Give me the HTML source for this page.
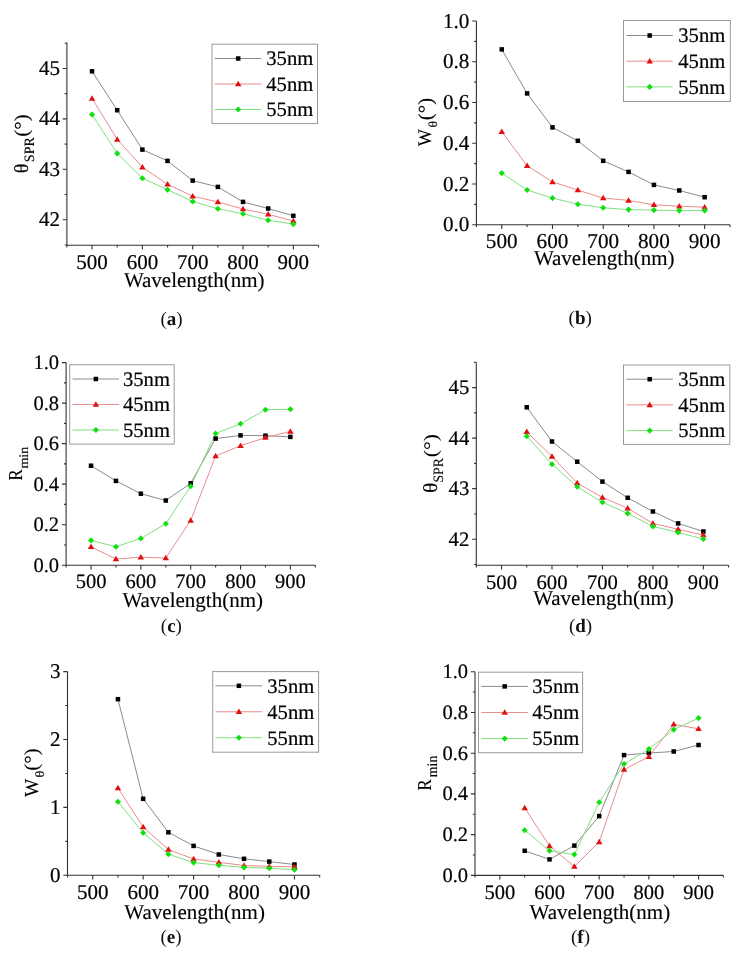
<!DOCTYPE html>
<html><head><meta charset="utf-8"><title>Figure</title>
<style>
html,body{margin:0;padding:0;background:#fff;}
body{width:741px;height:953px;overflow:hidden;}
svg{display:block;font-family:"Liberation Serif", serif;text-rendering:geometricPrecision;filter:blur(0.35px);}
svg text{fill:#000;stroke:#000;stroke-width:0.2px;}
svg text.t{stroke-width:0.12px;}
svg text.c{stroke:none;fill:#111;}
</style></head>
<body>
<svg width="741" height="953" viewBox="0 0 741 953">
<rect width="741" height="953" fill="#fff"/>
<path d="M66.9 42.6V245.3H318.5" fill="none" stroke="#333" stroke-width="1.1"/>
<path d="M66.9 219.75H62.7M66.9 169.32H62.7M66.9 118.89H62.7M66.9 68.46H62.7M66.9 244.97H64.7M66.9 194.53H64.7M66.9 144.11H64.7M66.9 93.67H64.7M66.9 43.25H64.7M92.06 245.3V249.5M142.38 245.3V249.5M192.7 245.3V249.5M243.02 245.3V249.5M293.34 245.3V249.5M66.9 245.3V247.5M117.22 245.3V247.5M167.54 245.3V247.5M217.86 245.3V247.5M268.18 245.3V247.5M318.5 245.3V247.5" fill="none" stroke="#333" stroke-width="1.1"/>
<text x="59.9" y="226.35" text-anchor="end" font-size="21">42</text>
<text x="59.9" y="175.92" text-anchor="end" font-size="21">43</text>
<text x="59.9" y="125.49" text-anchor="end" font-size="21">44</text>
<text x="59.9" y="75.06" text-anchor="end" font-size="21">45</text>
<text x="92.06" y="268.5" text-anchor="middle" font-size="21">500</text>
<text x="142.38" y="268.5" text-anchor="middle" font-size="21">600</text>
<text x="192.7" y="268.5" text-anchor="middle" font-size="21">700</text>
<text x="243.02" y="268.5" text-anchor="middle" font-size="21">800</text>
<text x="293.34" y="268.5" text-anchor="middle" font-size="21">900</text>
<text class="t" x="194.2" y="286.5" text-anchor="middle" font-size="21.0">Wavelength(nm)</text>
<text class="t" transform="translate(27.7 173.15) rotate(-90) scale(1.013 1)" font-size="20.06">θ</text>
<text class="t" transform="translate(33.56 162.14) rotate(-90) scale(0.981 1)" font-size="14.31">SPR</text>
<text class="t" transform="translate(27.69 136.73) rotate(-90) scale(1.067 1)" font-size="19.76">(°)</text>
<polyline points="92.06,71.3 117.22,110.2 142.38,149.6 167.54,160.9 192.7,180.6 217.86,186.9 243.02,201.9 268.18,208.5 293.34,215.8" fill="none" stroke="#8a8a8a" stroke-width="1"/>
<polyline points="92.06,98.4 117.22,139.4 142.38,167.2 167.54,184.3 192.7,196.2 217.86,201.9 243.02,209 268.18,214.2 293.34,221.1" fill="none" stroke="#ec8c8c" stroke-width="1"/>
<polyline points="92.06,114.6 117.22,153.4 142.38,178.2 167.54,189.7 192.7,201.5 217.86,208.7 243.02,213.8 268.18,220.3 293.34,224.1" fill="none" stroke="#80e080" stroke-width="1"/>
<rect x="89.81" y="69.05" width="4.5" height="4.5" fill="#000"/>
<rect x="114.97" y="107.95" width="4.5" height="4.5" fill="#000"/>
<rect x="140.13" y="147.35" width="4.5" height="4.5" fill="#000"/>
<rect x="165.29" y="158.65" width="4.5" height="4.5" fill="#000"/>
<rect x="190.45" y="178.35" width="4.5" height="4.5" fill="#000"/>
<rect x="215.61" y="184.65" width="4.5" height="4.5" fill="#000"/>
<rect x="240.77" y="199.65" width="4.5" height="4.5" fill="#000"/>
<rect x="265.93" y="206.25" width="4.5" height="4.5" fill="#000"/>
<rect x="291.09" y="213.55" width="4.5" height="4.5" fill="#000"/>
<path d="M92.06 95.15L95.31 100.65L88.81 100.65Z" fill="#e01010"/>
<path d="M117.22 136.15L120.47 141.65L113.97 141.65Z" fill="#e01010"/>
<path d="M142.38 163.95L145.63 169.45L139.13 169.45Z" fill="#e01010"/>
<path d="M167.54 181.05L170.79 186.55L164.29 186.55Z" fill="#e01010"/>
<path d="M192.7 192.95L195.95 198.45L189.45 198.45Z" fill="#e01010"/>
<path d="M217.86 198.65L221.11 204.15L214.61 204.15Z" fill="#e01010"/>
<path d="M243.02 205.75L246.27 211.25L239.77 211.25Z" fill="#e01010"/>
<path d="M268.18 210.95L271.43 216.45L264.93 216.45Z" fill="#e01010"/>
<path d="M293.34 217.85L296.59 223.35L290.09 223.35Z" fill="#e01010"/>
<path d="M92.06 111.55L95.11 114.6L92.06 117.65L89.01 114.6Z" fill="#10e010"/>
<path d="M117.22 150.35L120.27 153.4L117.22 156.45L114.17 153.4Z" fill="#10e010"/>
<path d="M142.38 175.15L145.43 178.2L142.38 181.25L139.33 178.2Z" fill="#10e010"/>
<path d="M167.54 186.65L170.59 189.7L167.54 192.75L164.49 189.7Z" fill="#10e010"/>
<path d="M192.7 198.45L195.75 201.5L192.7 204.55L189.65 201.5Z" fill="#10e010"/>
<path d="M217.86 205.65L220.91 208.7L217.86 211.75L214.81 208.7Z" fill="#10e010"/>
<path d="M243.02 210.75L246.07 213.8L243.02 216.85L239.97 213.8Z" fill="#10e010"/>
<path d="M268.18 217.25L271.23 220.3L268.18 223.35L265.13 220.3Z" fill="#10e010"/>
<path d="M293.34 221.05L296.39 224.1L293.34 227.15L290.29 224.1Z" fill="#10e010"/>
<rect x="212" y="44.2" width="105.5" height="79.4" fill="#fff" stroke="#999" stroke-width="1"/>
<path d="M214.8 58.5H261.3" stroke="#8a8a8a" stroke-width="1"/>
<rect x="235.95" y="56.25" width="4.5" height="4.5" fill="#000"/>
<text x="266.3" y="65.3" font-size="20.6">35nm</text>
<path d="M214.8 84H261.3" stroke="#ec8c8c" stroke-width="1"/>
<path d="M238.2 80.75L241.45 86.25L234.95 86.25Z" fill="#e01010"/>
<text x="266.3" y="90.8" font-size="20.6">45nm</text>
<path d="M214.8 109.5H261.3" stroke="#80e080" stroke-width="1"/>
<path d="M238.2 106.45L241.25 109.5L238.2 112.55L235.15 109.5Z" fill="#10e010"/>
<text x="266.3" y="116.3" font-size="20.6">55nm</text>
<text class="c" x="171.5" y="324.5" text-anchor="middle" font-size="19">(<tspan font-weight="bold">a</tspan>)</text>
<path d="M476.4 21V224.7H730" fill="none" stroke="#333" stroke-width="1.1"/>
<path d="M476.4 224.7H472.2M476.4 183.96H472.2M476.4 143.22H472.2M476.4 102.48H472.2M476.4 61.74H472.2M476.4 21H472.2M476.4 204.33H474.2M476.4 163.59H474.2M476.4 122.85H474.2M476.4 82.11H474.2M476.4 41.37H474.2M501.76 224.7V228.9M552.48 224.7V228.9M603.2 224.7V228.9M653.92 224.7V228.9M704.64 224.7V228.9M476.4 224.7V226.9M527.12 224.7V226.9M577.84 224.7V226.9M628.56 224.7V226.9M679.28 224.7V226.9M730 224.7V226.9" fill="none" stroke="#333" stroke-width="1.1"/>
<text x="469.4" y="231.36" text-anchor="end" font-size="21.2">0.0</text>
<text x="469.4" y="190.62" text-anchor="end" font-size="21.2">0.2</text>
<text x="469.4" y="149.88" text-anchor="end" font-size="21.2">0.4</text>
<text x="469.4" y="109.14" text-anchor="end" font-size="21.2">0.6</text>
<text x="469.4" y="68.4" text-anchor="end" font-size="21.2">0.8</text>
<text x="469.4" y="27.66" text-anchor="end" font-size="21.2">1.0</text>
<text x="501.76" y="247.9" text-anchor="middle" font-size="21.2">500</text>
<text x="552.48" y="247.9" text-anchor="middle" font-size="21.2">600</text>
<text x="603.2" y="247.9" text-anchor="middle" font-size="21.2">700</text>
<text x="653.92" y="247.9" text-anchor="middle" font-size="21.2">800</text>
<text x="704.64" y="247.9" text-anchor="middle" font-size="21.2">900</text>
<text class="t" x="604.2" y="265.3" text-anchor="middle" font-size="21.0">Wavelength(nm)</text>
<text class="t" transform="translate(431.21 146.22) rotate(-90) scale(0.943 1)" font-size="19.28">W</text>
<text class="t" transform="translate(437.08 127.55) rotate(-90) scale(1.143 1)" font-size="12.15">θ</text>
<text class="t" transform="translate(431.54 120.22) rotate(-90) scale(1.050 1)" font-size="19.98">(°)</text>
<polyline points="501.76,49.4 527.12,93.4 552.48,127.4 577.84,140.8 603.2,160.8 628.56,171.9 653.92,184.9 679.28,190.5 704.64,197.2" fill="none" stroke="#8a8a8a" stroke-width="1"/>
<polyline points="501.76,131.8 527.12,165.7 552.48,181.9 577.84,190.1 603.2,198 628.56,200.4 653.92,204.8 679.28,206.2 704.64,207.2" fill="none" stroke="#ec8c8c" stroke-width="1"/>
<polyline points="501.76,173.1 527.12,190 552.48,198.1 577.84,204.2 603.2,207.8 628.56,209.6 653.92,210.1 679.28,210.6 704.64,210.6" fill="none" stroke="#80e080" stroke-width="1"/>
<rect x="499.51" y="47.15" width="4.5" height="4.5" fill="#000"/>
<rect x="524.87" y="91.15" width="4.5" height="4.5" fill="#000"/>
<rect x="550.23" y="125.15" width="4.5" height="4.5" fill="#000"/>
<rect x="575.59" y="138.55" width="4.5" height="4.5" fill="#000"/>
<rect x="600.95" y="158.55" width="4.5" height="4.5" fill="#000"/>
<rect x="626.31" y="169.65" width="4.5" height="4.5" fill="#000"/>
<rect x="651.67" y="182.65" width="4.5" height="4.5" fill="#000"/>
<rect x="677.03" y="188.25" width="4.5" height="4.5" fill="#000"/>
<rect x="702.39" y="194.95" width="4.5" height="4.5" fill="#000"/>
<path d="M501.76 128.55L505.01 134.05L498.51 134.05Z" fill="#e01010"/>
<path d="M527.12 162.45L530.37 167.95L523.87 167.95Z" fill="#e01010"/>
<path d="M552.48 178.65L555.73 184.15L549.23 184.15Z" fill="#e01010"/>
<path d="M577.84 186.85L581.09 192.35L574.59 192.35Z" fill="#e01010"/>
<path d="M603.2 194.75L606.45 200.25L599.95 200.25Z" fill="#e01010"/>
<path d="M628.56 197.15L631.81 202.65L625.31 202.65Z" fill="#e01010"/>
<path d="M653.92 201.55L657.17 207.05L650.67 207.05Z" fill="#e01010"/>
<path d="M679.28 202.95L682.53 208.45L676.03 208.45Z" fill="#e01010"/>
<path d="M704.64 203.95L707.89 209.45L701.39 209.45Z" fill="#e01010"/>
<path d="M501.76 170.05L504.81 173.1L501.76 176.15L498.71 173.1Z" fill="#10e010"/>
<path d="M527.12 186.95L530.17 190L527.12 193.05L524.07 190Z" fill="#10e010"/>
<path d="M552.48 195.05L555.53 198.1L552.48 201.15L549.43 198.1Z" fill="#10e010"/>
<path d="M577.84 201.15L580.89 204.2L577.84 207.25L574.79 204.2Z" fill="#10e010"/>
<path d="M603.2 204.75L606.25 207.8L603.2 210.85L600.15 207.8Z" fill="#10e010"/>
<path d="M628.56 206.55L631.61 209.6L628.56 212.65L625.51 209.6Z" fill="#10e010"/>
<path d="M653.92 207.05L656.97 210.1L653.92 213.15L650.87 210.1Z" fill="#10e010"/>
<path d="M679.28 207.55L682.33 210.6L679.28 213.65L676.23 210.6Z" fill="#10e010"/>
<path d="M704.64 207.55L707.69 210.6L704.64 213.65L701.59 210.6Z" fill="#10e010"/>
<rect x="623.5" y="20.5" width="106.8" height="81" fill="#fff" stroke="#999" stroke-width="1"/>
<path d="M626.3 35.5H672.8" stroke="#8a8a8a" stroke-width="1"/>
<rect x="647.45" y="33.25" width="4.5" height="4.5" fill="#000"/>
<text x="678.3" y="42.3" font-size="20.6">35nm</text>
<path d="M626.3 61.2H672.8" stroke="#ec8c8c" stroke-width="1"/>
<path d="M649.7 57.95L652.95 63.45L646.45 63.45Z" fill="#e01010"/>
<text x="678.3" y="68" font-size="20.6">45nm</text>
<path d="M626.3 86.9H672.8" stroke="#80e080" stroke-width="1"/>
<path d="M649.7 83.85L652.75 86.9L649.7 89.95L646.65 86.9Z" fill="#10e010"/>
<text x="678.3" y="93.7" font-size="20.6">55nm</text>
<text class="c" x="580.2" y="324" text-anchor="middle" font-size="19">(<tspan font-weight="bold">b</tspan>)</text>
<path d="M66.1 362.6V565.2H315.3" fill="none" stroke="#333" stroke-width="1.1"/>
<path d="M66.1 565.2H61.9M66.1 524.68H61.9M66.1 484.16H61.9M66.1 443.64H61.9M66.1 403.12H61.9M66.1 362.6H61.9M66.1 544.94H63.9M66.1 504.42H63.9M66.1 463.9H63.9M66.1 423.38H63.9M66.1 382.86H63.9M91.02 565.2V569.4M140.86 565.2V569.4M190.7 565.2V569.4M240.54 565.2V569.4M290.38 565.2V569.4M66.1 565.2V567.4M115.94 565.2V567.4M165.78 565.2V567.4M215.62 565.2V567.4M265.46 565.2V567.4M315.3 565.2V567.4" fill="none" stroke="#333" stroke-width="1.1"/>
<text x="59.1" y="571.64" text-anchor="end" font-size="20.5">0.0</text>
<text x="59.1" y="531.12" text-anchor="end" font-size="20.5">0.2</text>
<text x="59.1" y="490.6" text-anchor="end" font-size="20.5">0.4</text>
<text x="59.1" y="450.08" text-anchor="end" font-size="20.5">0.6</text>
<text x="59.1" y="409.56" text-anchor="end" font-size="20.5">0.8</text>
<text x="59.1" y="369.04" text-anchor="end" font-size="20.5">1.0</text>
<text x="91.02" y="588.4" text-anchor="middle" font-size="20.5">500</text>
<text x="140.86" y="588.4" text-anchor="middle" font-size="20.5">600</text>
<text x="190.7" y="588.4" text-anchor="middle" font-size="20.5">700</text>
<text x="240.54" y="588.4" text-anchor="middle" font-size="20.5">800</text>
<text x="290.38" y="588.4" text-anchor="middle" font-size="20.5">900</text>
<text class="t" x="192.7" y="606.9" text-anchor="middle" font-size="21.0">Wavelength(nm)</text>
<text class="t" transform="translate(22.3 480.58) rotate(-90) scale(0.845 1)" font-size="19.72">R</text>
<text class="t" transform="translate(28 468.6) rotate(-90) scale(1.070 1)" font-size="13.16">min</text>
<polyline points="91.02,465.7 115.94,480.9 140.86,493.7 165.78,500.5 190.7,483.3 215.62,438.6 240.54,435.4 265.46,435.7 290.38,436.9" fill="none" stroke="#8a8a8a" stroke-width="1"/>
<polyline points="91.02,546.8 115.94,559 140.86,557.2 165.78,558 190.7,520.4 215.62,456 240.54,445.7 265.46,437.6 290.38,431.4" fill="none" stroke="#ec8c8c" stroke-width="1"/>
<polyline points="91.02,540.4 115.94,546.7 140.86,538.4 165.78,523.7 190.7,486.3 215.62,433.5 240.54,423.8 265.46,409.7 290.38,409.3" fill="none" stroke="#80e080" stroke-width="1"/>
<rect x="88.77" y="463.45" width="4.5" height="4.5" fill="#000"/>
<rect x="113.69" y="478.65" width="4.5" height="4.5" fill="#000"/>
<rect x="138.61" y="491.45" width="4.5" height="4.5" fill="#000"/>
<rect x="163.53" y="498.25" width="4.5" height="4.5" fill="#000"/>
<rect x="188.45" y="481.05" width="4.5" height="4.5" fill="#000"/>
<rect x="213.37" y="436.35" width="4.5" height="4.5" fill="#000"/>
<rect x="238.29" y="433.15" width="4.5" height="4.5" fill="#000"/>
<rect x="263.21" y="433.45" width="4.5" height="4.5" fill="#000"/>
<rect x="288.13" y="434.65" width="4.5" height="4.5" fill="#000"/>
<path d="M91.02 543.55L94.27 549.05L87.77 549.05Z" fill="#e01010"/>
<path d="M115.94 555.75L119.19 561.25L112.69 561.25Z" fill="#e01010"/>
<path d="M140.86 553.95L144.11 559.45L137.61 559.45Z" fill="#e01010"/>
<path d="M165.78 554.75L169.03 560.25L162.53 560.25Z" fill="#e01010"/>
<path d="M190.7 517.15L193.95 522.65L187.45 522.65Z" fill="#e01010"/>
<path d="M215.62 452.75L218.87 458.25L212.37 458.25Z" fill="#e01010"/>
<path d="M240.54 442.45L243.79 447.95L237.29 447.95Z" fill="#e01010"/>
<path d="M265.46 434.35L268.71 439.85L262.21 439.85Z" fill="#e01010"/>
<path d="M290.38 428.15L293.63 433.65L287.13 433.65Z" fill="#e01010"/>
<path d="M91.02 537.35L94.07 540.4L91.02 543.45L87.97 540.4Z" fill="#10e010"/>
<path d="M115.94 543.65L118.99 546.7L115.94 549.75L112.89 546.7Z" fill="#10e010"/>
<path d="M140.86 535.35L143.91 538.4L140.86 541.45L137.81 538.4Z" fill="#10e010"/>
<path d="M165.78 520.65L168.83 523.7L165.78 526.75L162.73 523.7Z" fill="#10e010"/>
<path d="M190.7 483.25L193.75 486.3L190.7 489.35L187.65 486.3Z" fill="#10e010"/>
<path d="M215.62 430.45L218.67 433.5L215.62 436.55L212.57 433.5Z" fill="#10e010"/>
<path d="M240.54 420.75L243.59 423.8L240.54 426.85L237.49 423.8Z" fill="#10e010"/>
<path d="M265.46 406.65L268.51 409.7L265.46 412.75L262.41 409.7Z" fill="#10e010"/>
<path d="M290.38 406.25L293.43 409.3L290.38 412.35L287.33 409.3Z" fill="#10e010"/>
<rect x="69.7" y="364.7" width="104.5" height="79.4" fill="#fff" stroke="#999" stroke-width="1"/>
<path d="M72.5 379H119" stroke="#8a8a8a" stroke-width="1"/>
<rect x="93.65" y="376.75" width="4.5" height="4.5" fill="#000"/>
<text x="123" y="385.8" font-size="20.6">35nm</text>
<path d="M72.5 404.5H119" stroke="#ec8c8c" stroke-width="1"/>
<path d="M95.9 401.25L99.15 406.75L92.65 406.75Z" fill="#e01010"/>
<text x="123" y="411.3" font-size="20.6">45nm</text>
<path d="M72.5 430H119" stroke="#80e080" stroke-width="1"/>
<path d="M95.9 426.95L98.95 430L95.9 433.05L92.85 430Z" fill="#10e010"/>
<text x="123" y="436.8" font-size="20.6">55nm</text>
<text class="c" x="171.4" y="631.5" text-anchor="middle" font-size="19">(<tspan font-weight="bold">c</tspan>)</text>
<path d="M476.3 362.4V565.3H728.6" fill="none" stroke="#333" stroke-width="1.1"/>
<path d="M476.3 539.2H472.1M476.3 488.67H472.1M476.3 438.14H472.1M476.3 387.61H472.1M476.3 564.47H474.1M476.3 513.94H474.1M476.3 463.41H474.1M476.3 412.88H474.1M476.3 362.35H474.1M501.53 565.3V569.5M551.99 565.3V569.5M602.45 565.3V569.5M652.91 565.3V569.5M703.37 565.3V569.5M476.3 565.3V567.5M526.76 565.3V567.5M577.22 565.3V567.5M627.68 565.3V567.5M678.14 565.3V567.5M728.6 565.3V567.5" fill="none" stroke="#333" stroke-width="1.1"/>
<text x="469.3" y="545.71" text-anchor="end" font-size="20.7">42</text>
<text x="469.3" y="495.18" text-anchor="end" font-size="20.7">43</text>
<text x="469.3" y="444.65" text-anchor="end" font-size="20.7">44</text>
<text x="469.3" y="394.12" text-anchor="end" font-size="20.7">45</text>
<text x="501.53" y="588.5" text-anchor="middle" font-size="20.7">500</text>
<text x="551.99" y="588.5" text-anchor="middle" font-size="20.7">600</text>
<text x="602.45" y="588.5" text-anchor="middle" font-size="20.7">700</text>
<text x="652.91" y="588.5" text-anchor="middle" font-size="20.7">800</text>
<text x="703.37" y="588.5" text-anchor="middle" font-size="20.7">900</text>
<text class="t" x="603.45" y="604.6" text-anchor="middle" font-size="21.0">Wavelength(nm)</text>
<text class="t" transform="translate(437.1 493.03) rotate(-90) scale(1.089 1)" font-size="20.06">θ</text>
<text class="t" transform="translate(442.96 482.52) rotate(-90) scale(0.961 1)" font-size="14.31">SPR</text>
<text class="t" transform="translate(436.71 457.15) rotate(-90) scale(1.130 1)" font-size="19.21">(°)</text>
<polyline points="526.76,407.3 551.99,441.5 577.22,461.7 602.45,481.6 627.68,497.8 652.91,511.5 678.14,523.4 703.37,531.5" fill="none" stroke="#8a8a8a" stroke-width="1"/>
<polyline points="526.76,431.8 551.99,456.4 577.22,483.1 602.45,497.4 627.68,508.3 652.91,523.4 678.14,529.3 703.37,535.1" fill="none" stroke="#ec8c8c" stroke-width="1"/>
<polyline points="526.76,436.2 551.99,464.2 577.22,486.8 602.45,502.3 627.68,513.4 652.91,526.4 678.14,532.5 703.37,539" fill="none" stroke="#80e080" stroke-width="1"/>
<rect x="524.51" y="405.05" width="4.5" height="4.5" fill="#000"/>
<rect x="549.74" y="439.25" width="4.5" height="4.5" fill="#000"/>
<rect x="574.97" y="459.45" width="4.5" height="4.5" fill="#000"/>
<rect x="600.2" y="479.35" width="4.5" height="4.5" fill="#000"/>
<rect x="625.43" y="495.55" width="4.5" height="4.5" fill="#000"/>
<rect x="650.66" y="509.25" width="4.5" height="4.5" fill="#000"/>
<rect x="675.89" y="521.15" width="4.5" height="4.5" fill="#000"/>
<rect x="701.12" y="529.25" width="4.5" height="4.5" fill="#000"/>
<path d="M526.76 428.55L530.01 434.05L523.51 434.05Z" fill="#e01010"/>
<path d="M551.99 453.15L555.24 458.65L548.74 458.65Z" fill="#e01010"/>
<path d="M577.22 479.85L580.47 485.35L573.97 485.35Z" fill="#e01010"/>
<path d="M602.45 494.15L605.7 499.65L599.2 499.65Z" fill="#e01010"/>
<path d="M627.68 505.05L630.93 510.55L624.43 510.55Z" fill="#e01010"/>
<path d="M652.91 520.15L656.16 525.65L649.66 525.65Z" fill="#e01010"/>
<path d="M678.14 526.05L681.39 531.55L674.89 531.55Z" fill="#e01010"/>
<path d="M703.37 531.85L706.62 537.35L700.12 537.35Z" fill="#e01010"/>
<path d="M526.76 433.15L529.81 436.2L526.76 439.25L523.71 436.2Z" fill="#10e010"/>
<path d="M551.99 461.15L555.04 464.2L551.99 467.25L548.94 464.2Z" fill="#10e010"/>
<path d="M577.22 483.75L580.27 486.8L577.22 489.85L574.17 486.8Z" fill="#10e010"/>
<path d="M602.45 499.25L605.5 502.3L602.45 505.35L599.4 502.3Z" fill="#10e010"/>
<path d="M627.68 510.35L630.73 513.4L627.68 516.45L624.63 513.4Z" fill="#10e010"/>
<path d="M652.91 523.35L655.96 526.4L652.91 529.45L649.86 526.4Z" fill="#10e010"/>
<path d="M678.14 529.45L681.19 532.5L678.14 535.55L675.09 532.5Z" fill="#10e010"/>
<path d="M703.37 535.95L706.42 539L703.37 542.05L700.32 539Z" fill="#10e010"/>
<rect x="623.5" y="365" width="106.3" height="79.4" fill="#fff" stroke="#999" stroke-width="1"/>
<path d="M626.3 379.2H672.8" stroke="#8a8a8a" stroke-width="1"/>
<rect x="647.45" y="376.95" width="4.5" height="4.5" fill="#000"/>
<text x="678.3" y="386" font-size="20.6">35nm</text>
<path d="M626.3 404.9H672.8" stroke="#ec8c8c" stroke-width="1"/>
<path d="M649.7 401.65L652.95 407.15L646.45 407.15Z" fill="#e01010"/>
<text x="678.3" y="411.7" font-size="20.6">45nm</text>
<path d="M626.3 430.6H672.8" stroke="#80e080" stroke-width="1"/>
<path d="M649.7 427.55L652.75 430.6L649.7 433.65L646.65 430.6Z" fill="#10e010"/>
<text x="678.3" y="437.4" font-size="20.6">55nm</text>
<text class="c" x="580.5" y="631.5" text-anchor="middle" font-size="19">(<tspan font-weight="bold">d</tspan>)</text>
<path d="M67.5 671.6V875.3H319.7" fill="none" stroke="#333" stroke-width="1.1"/>
<path d="M67.5 875.3H63.3M67.5 807.4H63.3M67.5 739.5H63.3M67.5 671.6H63.3M67.5 841.35H65.3M67.5 773.45H65.3M67.5 705.55H65.3M92.72 875.3V879.5M143.16 875.3V879.5M193.6 875.3V879.5M244.04 875.3V879.5M294.48 875.3V879.5M67.5 875.3V877.5M117.94 875.3V877.5M168.38 875.3V877.5M218.82 875.3V877.5M269.26 875.3V877.5M319.7 875.3V877.5" fill="none" stroke="#333" stroke-width="1.1"/>
<text x="60.5" y="881.9" text-anchor="end" font-size="21">0</text>
<text x="60.5" y="814" text-anchor="end" font-size="21">1</text>
<text x="60.5" y="746.1" text-anchor="end" font-size="21">2</text>
<text x="60.5" y="678.2" text-anchor="end" font-size="21">3</text>
<text x="92.72" y="898.5" text-anchor="middle" font-size="21">500</text>
<text x="143.16" y="898.5" text-anchor="middle" font-size="21">600</text>
<text x="193.6" y="898.5" text-anchor="middle" font-size="21">700</text>
<text x="244.04" y="898.5" text-anchor="middle" font-size="21">800</text>
<text x="294.48" y="898.5" text-anchor="middle" font-size="21">900</text>
<text class="t" x="194.6" y="918.5" text-anchor="middle" font-size="21.0">Wavelength(nm)</text>
<text class="t" transform="translate(38.2 797.02) rotate(-90) scale(0.979 1)" font-size="19.88">W</text>
<text class="t" transform="translate(44.07 777.48) rotate(-90) scale(1.132 1)" font-size="12.71">θ</text>
<text class="t" transform="translate(38.27 770.72) rotate(-90) scale(1.056 1)" font-size="19.87">(°)</text>
<polyline points="117.94,699.2 143.16,798.8 168.38,832.3 193.6,845.9 218.82,854.5 244.04,858.8 269.26,861.6 294.48,864.5" fill="none" stroke="#8a8a8a" stroke-width="1"/>
<polyline points="117.94,788 143.16,827 168.38,849.6 193.6,858.9 218.82,862.3 244.04,865.5 269.26,866.4 294.48,866.8" fill="none" stroke="#ec8c8c" stroke-width="1"/>
<polyline points="117.94,801.7 143.16,832.8 168.38,854.2 193.6,862.6 218.82,865.3 244.04,867.4 269.26,868.2 294.48,869.7" fill="none" stroke="#80e080" stroke-width="1"/>
<rect x="115.69" y="696.95" width="4.5" height="4.5" fill="#000"/>
<rect x="140.91" y="796.55" width="4.5" height="4.5" fill="#000"/>
<rect x="166.13" y="830.05" width="4.5" height="4.5" fill="#000"/>
<rect x="191.35" y="843.65" width="4.5" height="4.5" fill="#000"/>
<rect x="216.57" y="852.25" width="4.5" height="4.5" fill="#000"/>
<rect x="241.79" y="856.55" width="4.5" height="4.5" fill="#000"/>
<rect x="267.01" y="859.35" width="4.5" height="4.5" fill="#000"/>
<rect x="292.23" y="862.25" width="4.5" height="4.5" fill="#000"/>
<path d="M117.94 784.75L121.19 790.25L114.69 790.25Z" fill="#e01010"/>
<path d="M143.16 823.75L146.41 829.25L139.91 829.25Z" fill="#e01010"/>
<path d="M168.38 846.35L171.63 851.85L165.13 851.85Z" fill="#e01010"/>
<path d="M193.6 855.65L196.85 861.15L190.35 861.15Z" fill="#e01010"/>
<path d="M218.82 859.05L222.07 864.55L215.57 864.55Z" fill="#e01010"/>
<path d="M244.04 862.25L247.29 867.75L240.79 867.75Z" fill="#e01010"/>
<path d="M269.26 863.15L272.51 868.65L266.01 868.65Z" fill="#e01010"/>
<path d="M294.48 863.55L297.73 869.05L291.23 869.05Z" fill="#e01010"/>
<path d="M117.94 798.65L120.99 801.7L117.94 804.75L114.89 801.7Z" fill="#10e010"/>
<path d="M143.16 829.75L146.21 832.8L143.16 835.85L140.11 832.8Z" fill="#10e010"/>
<path d="M168.38 851.15L171.43 854.2L168.38 857.25L165.33 854.2Z" fill="#10e010"/>
<path d="M193.6 859.55L196.65 862.6L193.6 865.65L190.55 862.6Z" fill="#10e010"/>
<path d="M218.82 862.25L221.87 865.3L218.82 868.35L215.77 865.3Z" fill="#10e010"/>
<path d="M244.04 864.35L247.09 867.4L244.04 870.45L240.99 867.4Z" fill="#10e010"/>
<path d="M269.26 865.15L272.31 868.2L269.26 871.25L266.21 868.2Z" fill="#10e010"/>
<path d="M294.48 866.65L297.53 869.7L294.48 872.75L291.43 869.7Z" fill="#10e010"/>
<rect x="212.7" y="671.6" width="105.9" height="80.6" fill="#fff" stroke="#999" stroke-width="1"/>
<path d="M215.5 685.8H262" stroke="#8a8a8a" stroke-width="1"/>
<rect x="236.65" y="683.55" width="4.5" height="4.5" fill="#000"/>
<text x="267.3" y="692.6" font-size="20.6">35nm</text>
<path d="M215.5 711.75H262" stroke="#ec8c8c" stroke-width="1"/>
<path d="M238.9 708.5L242.15 714L235.65 714Z" fill="#e01010"/>
<text x="267.3" y="718.55" font-size="20.6">45nm</text>
<path d="M215.5 737.7H262" stroke="#80e080" stroke-width="1"/>
<path d="M238.9 734.65L241.95 737.7L238.9 740.75L235.85 737.7Z" fill="#10e010"/>
<text x="267.3" y="744.5" font-size="20.6">55nm</text>
<text class="c" x="171" y="942.5" text-anchor="middle" font-size="19">(<tspan font-weight="bold">e</tspan>)</text>
<path d="M475 671.7V875.4H723.4" fill="none" stroke="#333" stroke-width="1.1"/>
<path d="M475 875.4H470.8M475 834.66H470.8M475 793.92H470.8M475 753.18H470.8M475 712.44H470.8M475 671.7H470.8M475 855.03H472.8M475 814.29H472.8M475 773.55H472.8M475 732.81H472.8M475 692.07H472.8M499.84 875.4V879.6M549.52 875.4V879.6M599.2 875.4V879.6M648.88 875.4V879.6M698.56 875.4V879.6M475 875.4V877.6M524.68 875.4V877.6M574.36 875.4V877.6M624.04 875.4V877.6M673.72 875.4V877.6M723.4 875.4V877.6" fill="none" stroke="#333" stroke-width="1.1"/>
<text x="468" y="881.84" text-anchor="end" font-size="20.5">0.0</text>
<text x="468" y="841.1" text-anchor="end" font-size="20.5">0.2</text>
<text x="468" y="800.36" text-anchor="end" font-size="20.5">0.4</text>
<text x="468" y="759.62" text-anchor="end" font-size="20.5">0.6</text>
<text x="468" y="718.88" text-anchor="end" font-size="20.5">0.8</text>
<text x="468" y="678.14" text-anchor="end" font-size="20.5">1.0</text>
<text x="499.84" y="898.6" text-anchor="middle" font-size="20.5">500</text>
<text x="549.52" y="898.6" text-anchor="middle" font-size="20.5">600</text>
<text x="599.2" y="898.6" text-anchor="middle" font-size="20.5">700</text>
<text x="648.88" y="898.6" text-anchor="middle" font-size="20.5">800</text>
<text x="698.56" y="898.6" text-anchor="middle" font-size="20.5">900</text>
<text class="t" x="599.9" y="919.2" text-anchor="middle" font-size="21.0">Wavelength(nm)</text>
<text class="t" transform="translate(431.1 790.58) rotate(-90) scale(0.845 1)" font-size="19.72">R</text>
<text class="t" transform="translate(437.2 777.19) rotate(-90) scale(0.952 1)" font-size="14.52">min</text>
<polyline points="524.68,850.8 549.52,859.4 574.36,845.6 599.2,816.1 624.04,755.1 648.88,753 673.72,751.5 698.56,745" fill="none" stroke="#8a8a8a" stroke-width="1"/>
<polyline points="524.68,807.9 549.52,845.9 574.36,866.6 599.2,841.9 624.04,769.6 648.88,756.7 673.72,724.3 698.56,728.8" fill="none" stroke="#ec8c8c" stroke-width="1"/>
<polyline points="524.68,830.2 549.52,850.8 574.36,854.5 599.2,802.3 624.04,764 648.88,749.1 673.72,729.6 698.56,718.1" fill="none" stroke="#80e080" stroke-width="1"/>
<rect x="522.43" y="848.55" width="4.5" height="4.5" fill="#000"/>
<rect x="547.27" y="857.15" width="4.5" height="4.5" fill="#000"/>
<rect x="572.11" y="843.35" width="4.5" height="4.5" fill="#000"/>
<rect x="596.95" y="813.85" width="4.5" height="4.5" fill="#000"/>
<rect x="621.79" y="752.85" width="4.5" height="4.5" fill="#000"/>
<rect x="646.63" y="750.75" width="4.5" height="4.5" fill="#000"/>
<rect x="671.47" y="749.25" width="4.5" height="4.5" fill="#000"/>
<rect x="696.31" y="742.75" width="4.5" height="4.5" fill="#000"/>
<path d="M524.68 804.65L527.93 810.15L521.43 810.15Z" fill="#e01010"/>
<path d="M549.52 842.65L552.77 848.15L546.27 848.15Z" fill="#e01010"/>
<path d="M574.36 863.35L577.61 868.85L571.11 868.85Z" fill="#e01010"/>
<path d="M599.2 838.65L602.45 844.15L595.95 844.15Z" fill="#e01010"/>
<path d="M624.04 766.35L627.29 771.85L620.79 771.85Z" fill="#e01010"/>
<path d="M648.88 753.45L652.13 758.95L645.63 758.95Z" fill="#e01010"/>
<path d="M673.72 721.05L676.97 726.55L670.47 726.55Z" fill="#e01010"/>
<path d="M698.56 725.55L701.81 731.05L695.31 731.05Z" fill="#e01010"/>
<path d="M524.68 827.15L527.73 830.2L524.68 833.25L521.63 830.2Z" fill="#10e010"/>
<path d="M549.52 847.75L552.57 850.8L549.52 853.85L546.47 850.8Z" fill="#10e010"/>
<path d="M574.36 851.45L577.41 854.5L574.36 857.55L571.31 854.5Z" fill="#10e010"/>
<path d="M599.2 799.25L602.25 802.3L599.2 805.35L596.15 802.3Z" fill="#10e010"/>
<path d="M624.04 760.95L627.09 764L624.04 767.05L620.99 764Z" fill="#10e010"/>
<path d="M648.88 746.05L651.93 749.1L648.88 752.15L645.83 749.1Z" fill="#10e010"/>
<path d="M673.72 726.55L676.77 729.6L673.72 732.65L670.67 729.6Z" fill="#10e010"/>
<path d="M698.56 715.05L701.61 718.1L698.56 721.15L695.51 718.1Z" fill="#10e010"/>
<rect x="478.5" y="672.2" width="104.1" height="80.5" fill="#fff" stroke="#999" stroke-width="1"/>
<path d="M481.3 686.4H527.8" stroke="#8a8a8a" stroke-width="1"/>
<rect x="502.45" y="684.15" width="4.5" height="4.5" fill="#000"/>
<text x="532.3" y="693.2" font-size="20.6">35nm</text>
<path d="M481.3 712.5H527.8" stroke="#ec8c8c" stroke-width="1"/>
<path d="M504.7 709.25L507.95 714.75L501.45 714.75Z" fill="#e01010"/>
<text x="532.3" y="719.3" font-size="20.6">45nm</text>
<path d="M481.3 738.6H527.8" stroke="#80e080" stroke-width="1"/>
<path d="M504.7 735.55L507.75 738.6L504.7 741.65L501.65 738.6Z" fill="#10e010"/>
<text x="532.3" y="745.4" font-size="20.6">55nm</text>
<text class="c" x="580.5" y="942.5" text-anchor="middle" font-size="19">(<tspan font-weight="bold">f</tspan>)</text>
</svg>
</body></html>
